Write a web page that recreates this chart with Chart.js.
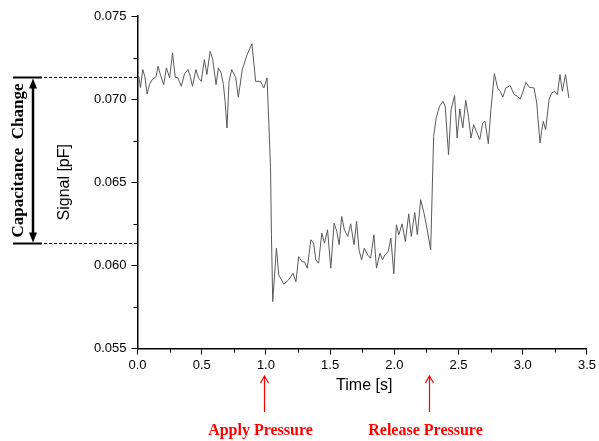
<!DOCTYPE html>
<html>
<head>
<meta charset="utf-8">
<script src="https://cdn.jsdelivr.net/npm/chart.js@4.4.1/dist/chart.umd.min.js"></script>
<style>
html,body{margin:0;padding:0;background:#fff;}
canvas{display:block;}
</style>
</head>
<body>
<canvas id="c" width="599" height="441"></canvas>
<script>
// Time [s]
const times = [0.010,0.023,0.041,0.057,0.075,0.093,0.114,0.134,0.145,0.160,0.178,0.204,0.225,0.250,0.273,0.294,0.315,0.341,0.366,0.393,0.411,0.428,0.455,0.475,0.496,0.521,0.540,0.566,0.586,0.612,0.630,0.651,0.669,0.682,0.697,0.713,0.734,0.765,0.785,0.816,0.854,0.891,0.920,0.958,0.984,1.009,1.023,1.036,1.043,1.053,1.082,1.100,1.139,1.177,1.211,1.234,1.255,1.280,1.301,1.322,1.350,1.371,1.389,1.410,1.435,1.456,1.480,1.505,1.531,1.552,1.570,1.590,1.611,1.637,1.660,1.686,1.706,1.725,1.745,1.766,1.792,1.815,1.841,1.861,1.888,1.908,1.926,1.952,1.973,1.996,2.016,2.035,2.060,2.086,2.112,2.132,2.159,2.179,2.205,2.231,2.256,2.283,2.306,2.326,2.352,2.378,2.396,2.422,2.442,2.469,2.489,2.510,2.533,2.556,2.577,2.597,2.618,2.644,2.665,2.688,2.706,2.732,2.752,2.779,2.804,2.825,2.845,2.868,2.902,2.933,2.959,2.980,2.998,3.025,3.050,3.088,3.109,3.119,3.135,3.147,3.160,3.178,3.205,3.225,3.248,3.269,3.290,3.308,3.333,3.359];
// Signal [pF]
const signal = [0.07137,0.07069,0.07178,0.07137,0.07031,0.07087,0.07117,0.07128,0.07137,0.07198,0.07148,0.07087,0.07188,0.07128,0.07278,0.07131,0.07128,0.07077,0.07152,0.07178,0.07137,0.07077,0.07178,0.07128,0.07107,0.07238,0.07148,0.07288,0.07238,0.07087,0.07188,0.07158,0.07087,0.06987,0.06827,0.07107,0.07178,0.07130,0.07011,0.07178,0.07268,0.07333,0.07107,0.07107,0.07067,0.07128,0.06846,0.06587,0.06184,0.05782,0.06104,0.05943,0.05887,0.05913,0.05953,0.05902,0.06053,0.06023,0.06019,0.05983,0.06154,0.06134,0.06033,0.06013,0.06194,0.06134,0.06214,0.05983,0.06254,0.06204,0.06124,0.06294,0.06214,0.06174,0.06250,0.06124,0.06264,0.06093,0.06033,0.06104,0.06063,0.06043,0.06184,0.05983,0.06073,0.06033,0.06063,0.06083,0.06164,0.05949,0.06244,0.06184,0.06250,0.06143,0.06310,0.06174,0.06318,0.06184,0.06395,0.06314,0.06214,0.06093,0.06776,0.06887,0.06957,0.06987,0.06957,0.06666,0.06937,0.07021,0.06766,0.06941,0.06827,0.06993,0.06896,0.06766,0.06846,0.06796,0.06756,0.06857,0.06866,0.06732,0.06937,0.07154,0.07067,0.07047,0.07013,0.07067,0.07081,0.07027,0.07017,0.07001,0.07037,0.07101,0.07072,0.07067,0.06977,0.06877,0.06736,0.06806,0.06866,0.06816,0.06997,0.07037,0.07047,0.07027,0.07148,0.07047,0.07148,0.07007];
const xTicks = [0,0.5,1.0,1.5,2.0,2.5,3.0,3.5];
const yTicks = [0.055,0.060,0.065,0.070,0.075];
const xMinor = [0.25,0.75,1.25,1.75,2.25,2.75,3.25];
const yMinor = [0.0575,0.0625,0.0675,0.0725];
const changeLevels = [0.07136,0.06136];
const events = [{t:0.985,label:'Apply Pressure'},{t:2.27,label:'Release Pressure'}];

const points = times.map((t,i)=>({x:t,y:signal[i]}));

const annot = {
  id:'annot',
  afterDraw(chart){
    const ctx = chart.ctx, ca = chart.chartArea;
    const xs = chart.scales.x, ys = chart.scales.y;
    ctx.save();
    ctx.strokeStyle = '#000';
    // minor ticks
    ctx.lineWidth = 1;
    xMinor.forEach(v=>{
      const px = Math.round(xs.getPixelForValue(v))+0.5;
      ctx.beginPath(); ctx.moveTo(px, ca.bottom); ctx.lineTo(px, ca.bottom+4); ctx.stroke();
    });
    yMinor.forEach(v=>{
      const py = Math.round(ys.getPixelForValue(v))+0.5;
      ctx.beginPath(); ctx.moveTo(ca.left-4, py); ctx.lineTo(ca.left, py); ctx.stroke();
    });
    // capacitance change bracket
    const yTop = Math.round(ys.getPixelForValue(changeLevels[0]))+0.5;
    const yBot = Math.round(ys.getPixelForValue(changeLevels[1]))+0.5;
    ctx.lineWidth = 2;
    [yTop,yBot].forEach(y=>{
      ctx.beginPath(); ctx.moveTo(13,y); ctx.lineTo(42,y); ctx.stroke();
    });
    ctx.lineWidth = 1;
    ctx.setLineDash([3,2]);
    [yTop,yBot].forEach(y=>{
      ctx.beginPath(); ctx.moveTo(44,y); ctx.lineTo(ca.left,y); ctx.stroke();
    });
    ctx.setLineDash([]);
    const ax = 33;
    ctx.lineWidth = 2.5;
    ctx.beginPath(); ctx.moveTo(ax, yTop+8); ctx.lineTo(ax, yBot-8); ctx.stroke();
    ctx.fillStyle = '#000';
    ctx.beginPath(); ctx.moveTo(ax, yTop+1); ctx.lineTo(ax-4, yTop+11); ctx.lineTo(ax+4, yTop+11); ctx.closePath(); ctx.fill();
    ctx.beginPath(); ctx.moveTo(ax, yBot-1); ctx.lineTo(ax-4, yBot-11); ctx.lineTo(ax+4, yBot-11); ctx.closePath(); ctx.fill();
    // rotated bold label
    ctx.save();
    ctx.translate(19, (yTop+yBot)/2);
    ctx.rotate(-Math.PI/2);
    ctx.font = 'bold 17px "Liberation Serif"';
    ctx.textAlign = 'center'; ctx.textBaseline = 'middle';
    ctx.fillText('Capacitance  Change', 0, 0);
    ctx.restore();
    // axis titles
    ctx.fillStyle = '#000';
    ctx.save();
    ctx.translate(65, (ca.top+ca.bottom)/2);
    ctx.rotate(-Math.PI/2);
    ctx.font = '16px "Liberation Sans"';
    ctx.textAlign = 'center'; ctx.textBaseline = 'middle';
    ctx.fillText('Signal [pF]', 0, 0);
    ctx.restore();
    ctx.font = '16px "Liberation Sans"';
    ctx.textAlign = 'center'; ctx.textBaseline = 'middle';
    ctx.fillText('Time [s]', (ca.left+ca.right)/2 + 2, 386);
    // event arrows
    ctx.strokeStyle = '#ff0000'; ctx.fillStyle = '#ff0000';
    events.forEach(e=>{
      const px = Math.round(xs.getPixelForValue(e.t))+0.5;
      ctx.lineWidth = 1.2;
      ctx.beginPath(); ctx.moveTo(px, 412); ctx.lineTo(px, 376); ctx.stroke();
      ctx.beginPath(); ctx.moveTo(px-4, 383); ctx.lineTo(px, 376); ctx.lineTo(px+4, 383); ctx.stroke();
      ctx.font = 'bold 16px "Liberation Serif"';
      ctx.textAlign = 'center'; ctx.textBaseline = 'middle';
      ctx.fillText(e.label, px-4, 431);
    });
    ctx.restore();
  }
};

new Chart(document.getElementById('c'), {
  type:'line',
  data:{datasets:[{data:points, borderColor:'#5a5a5a', borderWidth:1, pointRadius:0, tension:0, fill:false}]},
  options:{
    responsive:false, animation:false, devicePixelRatio:1,
    layout:{padding:{top:16,right:8,left:0,bottom:0}},
    plugins:{legend:{display:false}, tooltip:{enabled:false}},
    scales:{
      x:{type:'linear', min:0, max:3.5,
        afterBuildTicks: s=>{ s.ticks = xTicks.map(v=>({value:v})); },
        ticks:{callback:v=>Number(v).toFixed(1), font:{family:'Liberation Sans', size:13}, color:'#000', padding:3, maxRotation:0, autoSkip:false},
        grid:{drawOnChartArea:false, drawTicks:true, tickLength:6, color:'#000', lineWidth:1},
        border:{color:'#000', width:1.5},
        afterFit: s=>{ s.height = 92.5; }
      },
      y:{type:'linear', min:0.055, max:0.075,
        afterBuildTicks: s=>{ s.ticks = yTicks.map(v=>({value:v})); },
        ticks:{callback:v=>Number(v).toFixed(3), font:{family:'Liberation Sans', size:13}, color:'#000', padding:5, autoSkip:false},
        grid:{drawOnChartArea:false, drawTicks:true, tickLength:6, color:'#000', lineWidth:1},
        border:{color:'#000', width:1.5},
        afterFit: s=>{ s.width = 137.5; }
      }
    }
  },
  plugins:[annot]
});
</script>
</body>
</html>
